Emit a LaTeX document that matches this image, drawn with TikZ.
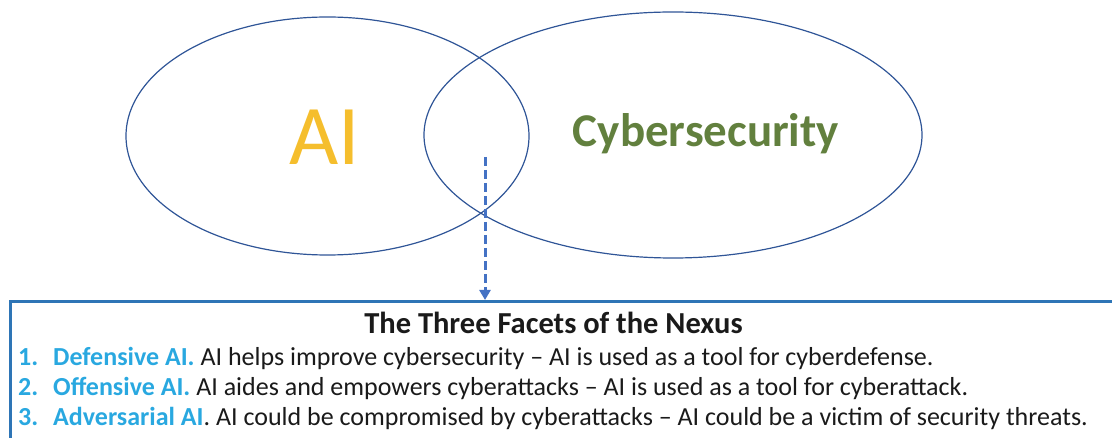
\documentclass[tikz,border=0pt]{standalone}
\usepackage{fontspec}
\setmainfont{Carlito}
\usetikzlibrary{arrows.meta,positioning,calc,shapes.geometric}
\definecolor{VENN-BLUE}{RGB}{47, 85, 151}
\definecolor{AI-GOLD}{RGB}{245, 190, 45}
\definecolor{CYBER-GREEN}{RGB}{98, 128, 62}
\definecolor{ARROW-BLUE}{RGB}{68, 114, 196}
\definecolor{BOX-BLUE}{RGB}{46, 117, 182}
\definecolor{FACET-BLUE}{RGB}{41, 168, 224}
\definecolor{TEXT-BLACK}{RGB}{26, 26, 26}

\newcommand{\facet}[2]{\textbf{\color{FACET-BLUE}\makebox[35pt][l]{#1}#2}}

\begin{document}
\begin{tikzpicture}[x=1pt, y=-1pt,
  venn/.style={ellipse, draw=VENN-BLUE, line width=1.2pt, inner sep=0pt},
  facetline/.style={anchor=base west, inner sep=0pt, text=TEXT-BLACK,
    font=\fontsize{26}{30}\selectfont}]
  \useasboundingbox (0,0) rectangle (1112,438);

  % Set AI (left ellipse)
  \node[venn, minimum width=403pt, minimum height=238pt] (aiset) at (327.5,136) {};
  \node[anchor=base, inner sep=0pt, AI-GOLD, font=\fontsize{85}{85}\selectfont] (ailabel) at (325,165) {AI};

  % Set Cybersecurity (right ellipse)
  \node[venn, minimum width=498pt, minimum height=246pt] (cyberset) at (673,135) {};
  \node[anchor=base, inner sep=0pt, CYBER-GREEN, font=\bfseries\fontsize{47}{47}\selectfont] (cyberlabel) at (706,147) {Cybersecurity};

  % Box with the three facets
  \node[draw=BOX-BLUE, line width=3pt, anchor=north west, minimum width=1130pt,
    minimum height=160pt, inner sep=0pt] (facets) at (9,300) {};
  \node[anchor=base, inner sep=0pt, text=TEXT-BLACK, font=\bfseries\fontsize{30.5}{34}\selectfont] (title) at (553.5,334) {The Three Facets of the Nexus};
  \node[facetline] (defensive) at (18,366) {\facet{1.}{Defensive AI.} AI helps improve cybersecurity – AI is used as a tool for cyberdefense.};
  \node[facetline] (offensive) at (18,395.5) {\facet{2.}{Offensive AI.} AI aides and empowers cyberattacks – AI is used as a tool for cyberattack.};
  \node[facetline] (adversarial) at (18,425) {\facet{3.}{Adversarial AI}. AI could be compromised by cyberattacks – AI could be a victim of security threats.};

  % Overlap points down to the box
  \coordinate (overlap) at (485,157);
  \draw[ARROW-BLUE, line width=3pt, dash pattern=on 9pt off 4pt,
    -{Triangle[width=11pt,length=10pt]}] (overlap) -- (overlap |- facets.north);
\end{tikzpicture}
\end{document}
